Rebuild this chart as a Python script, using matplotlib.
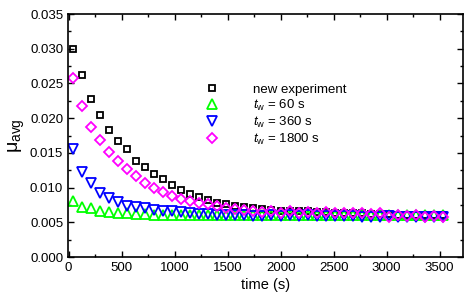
import matplotlib.pyplot as plt
from matplotlib.ticker import MultipleLocator

plt.rcParams['font.family'] = ['Liberation Sans', 'DejaVu Sans']
plt.rcParams['mathtext.fontset'] = 'custom'
plt.rcParams['mathtext.rm'] = 'Liberation Sans'
plt.rcParams['mathtext.it'] = 'Liberation Sans:italic'

# time (s)
t = [44, 129, 214, 299, 384, 469, 554, 639, 724, 809, 894, 979, 1064, 1149,
     1234, 1319, 1404, 1489, 1574, 1659, 1744, 1829, 1914, 1999, 2084, 2169,
     2254, 2339, 2424, 2509, 2594, 2679, 2764, 2849, 2934, 3019, 3104, 3189,
     3274, 3359, 3444, 3529]

new_exp = [0.0300, 0.0262, 0.0228, 0.0204, 0.0183, 0.0167, 0.0155, 0.0139,
           0.0129, 0.0120, 0.0112, 0.0104, 0.0097, 0.0091, 0.0086, 0.0082,
           0.0078, 0.0076, 0.0074, 0.0072, 0.0070, 0.0069, 0.0068, 0.0067,
           0.0067, 0.0066, 0.0066, 0.0065, 0.0065, 0.0064, 0.0064, 0.0063,
           0.0063, 0.0062, 0.0062, 0.0062, 0.0061, 0.0061, 0.0061, 0.0061,
           0.0060, 0.0060]

tw60 = [0.0081, 0.0072, 0.0070, 0.0067, 0.0065, 0.0064, 0.0063, 0.0062,
        0.0062, 0.0061, 0.0061, 0.0061, 0.0061, 0.0060, 0.0061, 0.0060,
        0.0060, 0.0060, 0.0060, 0.0060, 0.0060, 0.0061, 0.0060, 0.0060,
        0.0060, 0.0060, 0.0060, 0.0060, 0.0060, 0.0060, 0.0060, 0.0060,
        0.0060, 0.0061, 0.0061, 0.0061, 0.0061, 0.0061, 0.0061, 0.0061,
        0.0060, 0.0060]

tw360 = [0.0155, 0.0123, 0.0106, 0.0092, 0.0085, 0.0079, 0.0074, 0.0072,
         0.0070, 0.0068, 0.0067, 0.0066, 0.0065, 0.0063, 0.0062, 0.0062,
         0.0061, 0.0061, 0.0060, 0.0060, 0.0059, 0.0059, 0.0060, 0.0059,
         0.0060, 0.0059, 0.0060, 0.0059, 0.0059, 0.0059, 0.0059, 0.0059,
         0.0058, 0.0058, 0.0058, 0.0059, 0.0058, 0.0058, 0.0058, 0.0058,
         0.0058, 0.0058]

tw1800 = [0.0258, 0.0218, 0.0188, 0.0169, 0.0152, 0.0138, 0.0127, 0.0117,
          0.0107, 0.0100, 0.0093, 0.0088, 0.0084, 0.0081, 0.0078, 0.0076,
          0.0073, 0.0071, 0.0069, 0.0068, 0.0066, 0.0065, 0.0066, 0.0064,
          0.0066, 0.0064, 0.0065, 0.0064, 0.0065, 0.0063, 0.0064, 0.0063,
          0.0064, 0.0062, 0.0063, 0.0058, 0.0060, 0.0059, 0.0061, 0.0058,
          0.0059, 0.0058]

fig = plt.figure(figsize=(4.71, 3.06), dpi=100)
ax = fig.add_axes([0.1444, 0.160, 0.8386, 0.794])

ax.plot(t, new_exp, 's', ms=5, mew=1.3, mfc='none', color='black', label='new experiment')
ax.plot(t, tw60, '^', ms=6.5, mew=1.3, mfc='none', color='#00ff00', label=r'$\mathit{t}_{\mathrm{w}}$ = 60 s')
ax.plot(t, tw360, 'v', ms=6.5, mew=1.3, mfc='none', color='#0000ff', label=r'$\mathit{t}_{\mathrm{w}}$ = 360 s')
ax.plot(t, tw1800, 'D', ms=5.5, mew=1.3, mfc='none', color='#ff00ff', label=r'$\mathit{t}_{\mathrm{w}}$ = 1800 s')

ax.set_xlim(-5, 3720)
ax.set_ylim(0, 0.035)
ax.xaxis.set_major_locator(MultipleLocator(500))
ax.xaxis.set_minor_locator(MultipleLocator(250))
ax.yaxis.set_major_locator(MultipleLocator(0.005))
ax.yaxis.set_minor_locator(MultipleLocator(0.0025))
ax.yaxis.set_major_formatter(plt.FormatStrFormatter('%.3f'))
ax.tick_params(which='both', direction='in', top=True, right=True, labelsize=9.5, width=1)
ax.tick_params(which='major', length=4.5)
ax.tick_params(which='minor', length=2.5)
for s in ax.spines.values():
    s.set_linewidth(1.2)

ax.set_xlabel('time (s)', fontsize=10.5, labelpad=3)
ax.set_ylabel(r'μ$_{\mathrm{avg}}$', fontsize=14, labelpad=2)

ax.legend(loc='upper left', bbox_to_anchor=(0.335, 0.735), frameon=False,
          fontsize=9.5, handlelength=1, handletextpad=2.6, labelspacing=0.15,
          borderaxespad=0)

fig.savefig('out.png', dpi=100)
